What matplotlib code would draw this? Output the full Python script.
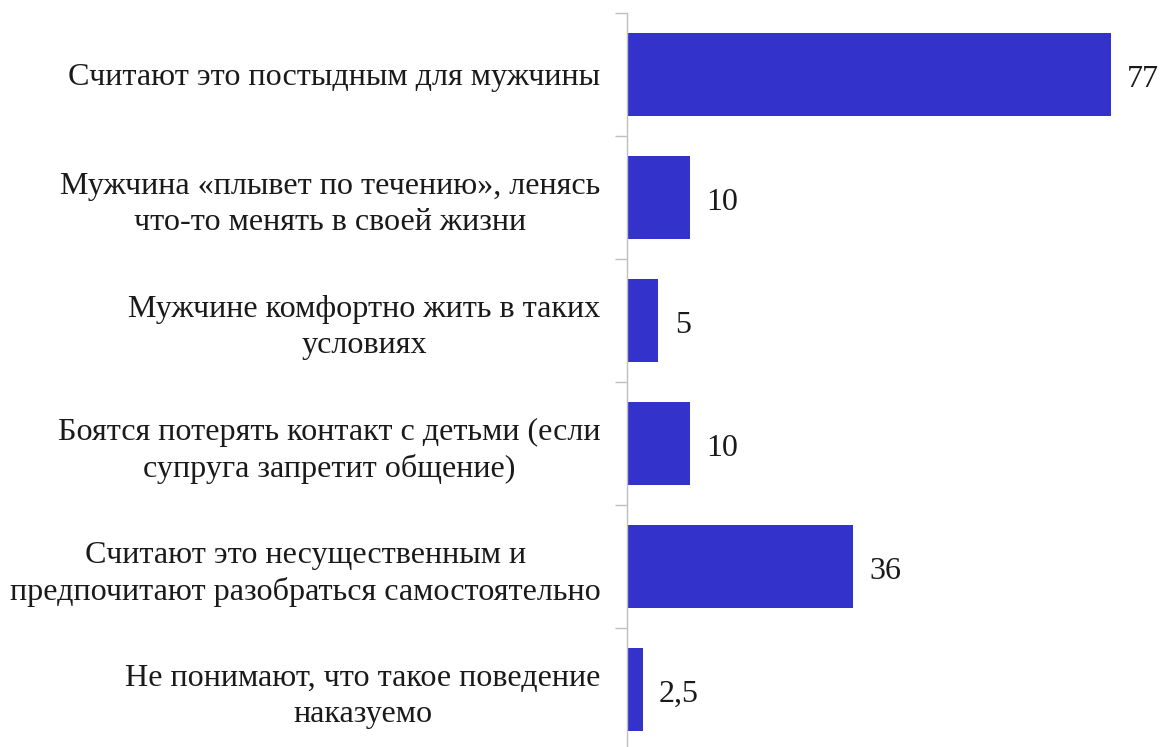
import numpy as np
import matplotlib.pyplot as plt
from matplotlib.ticker import FixedLocator

categories = [
    "Считают это постыдным для мужчины",
    "Мужчина «плывет по течению», ленясь\nчто-то менять в своей жизни",
    "Мужчине комфортно жить в таких\nусловиях",
    "Боятся потерять контакт с детьми (если\nсупруга запретит общение)",
    "Считают это несущественным и\nпредпочитают разобраться самостоятельно",
    "Не понимают, что такое поведение\nнаказуемо",
]
values = [77, 10, 5, 10, 36, 2.5]
value_labels = ["77", "10", "5", "10", "36", "2,5"]

plt.rcParams['font.family'] = ['Liberation Serif', 'DejaVu Serif']

fig = plt.figure(figsize=(11.61, 7.47), dpi=100)
# axes spans from the y axis line to the right edge; bottom slightly below the figure
ax = fig.add_axes([627 / 1161, -4 / 747, 1 - 627 / 1161, 738 / 747])

y = np.arange(len(categories))
ax.barh(y, values, height=0.675, color='#3333CC')

ax.set_xlim(0, (1161 - 627) / 6.286)
ax.set_ylim(len(categories) - 0.5, -0.5)

for yi, v, lab in zip(y, values, value_labels):
    ax.text(v + 2.6, yi + 0.04, lab, va='center', ha='left', fontsize=23, color='#1a1a1a')

ax.set_yticks(y)
ax.set_yticklabels(categories, fontsize=23.1, color='#1a1a1a', multialignment='center', linespacing=1.33)
ax.tick_params(axis='y', which='major', length=0, pad=19)
ax.yaxis.set_minor_locator(FixedLocator(np.arange(-0.5, len(categories), 1)))
ax.tick_params(axis='y', which='minor', length=9, width=1, color='#BFBFBF')

ax.set_xticks([])
for s in ['top', 'right', 'bottom']:
    ax.spines[s].set_visible(False)
ax.spines['left'].set_color('#BFBFBF')
ax.spines['left'].set_linewidth(1)

fig.savefig('out.png', dpi=100)
